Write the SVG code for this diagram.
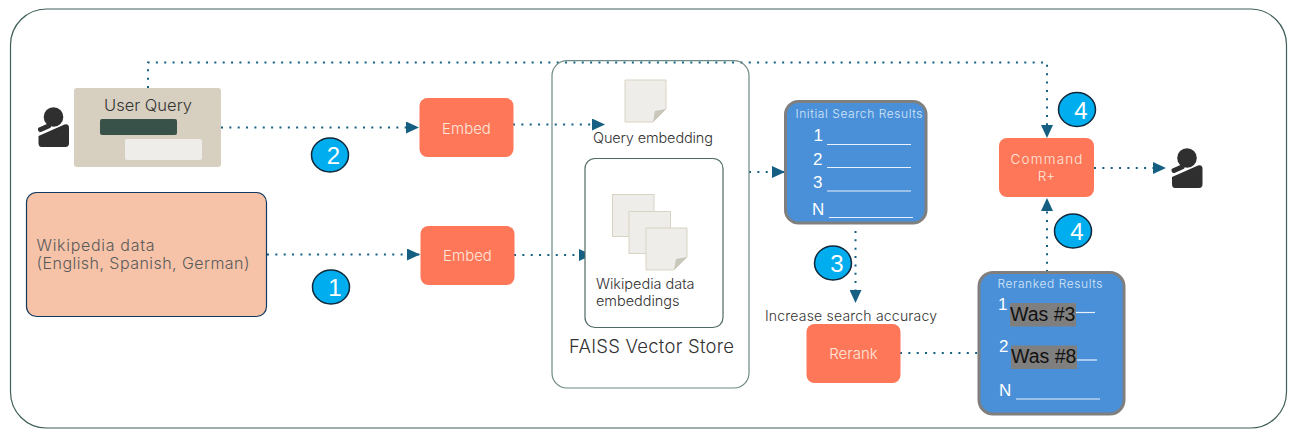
<svg xmlns="http://www.w3.org/2000/svg" xmlns:xlink="http://www.w3.org/1999/xlink" width="1299" height="437" viewBox="0 0 1299 437">
<style>
text{font-family:"Inter","Liberation Sans",sans-serif;font-weight:300}
.ar{font-family:"Liberation Sans",Arial,sans-serif;font-weight:400}
.conn{fill:none;stroke:#156082;stroke-width:2;stroke-dasharray:2 6.35}
.orange{fill:#ff7759}
.otext{fill:#fde6dc;font-size:15px;text-anchor:middle}
.doc{fill:#eeede9;stroke:#d9d3c4;stroke-width:1}
.fold{fill:#c9c6bb}
.res{fill:#4a90d9;stroke:#7f7f7f;stroke-width:3}
.rl{stroke:#e8f0fa;stroke-width:1.2}
.num{fill:#fff;font-size:17px}
.rt{fill:#d6e6f8;font-size:12px}
.badge{fill:#00aeef;stroke:#10283a;stroke-width:1.5}
.bt{fill:#fff;font-size:24px;text-anchor:middle}
.was{fill:#111;font-size:19.5px}
</style>
<defs>
<marker id="arrow" markerUnits="userSpaceOnUse" markerWidth="14" markerHeight="12" refX="13" refY="6" orient="auto"><path d="M0 0L13 6L0 12Z" fill="#156082"/></marker>
<symbol id="person" overflow="visible"><circle cx="0" cy="0" r="9.8" fill="#2f2f2f"/><path d="M-13 12.500L-5 9" stroke="#2f2f2f" stroke-width="5" stroke-linecap="round" fill="none"/><path d="M-15 19L11 7.500Q15.500 6.500 15.500 11L15.500 26Q15.500 30 12 30L-12 30Q-15 30-15 26Z" fill="#2f2f2f"/></symbol>
<symbol id="page" overflow="visible"><path class="doc" d="M0 0H41V29L28 42H0Z"/><path class="fold" d="M41 29L28 42L30 31Z"/></symbol>
</defs>
<rect id="frame" x="10.500" y="9" width="1276" height="419" rx="36" fill="#fff" stroke="#3f5f5a" stroke-width="1.2"/>
<g id="connectors">
<path class="conn" d="M148 88V62.500H1047V138" marker-end="url(#arrow)"/>
<path class="conn" d="M221 127.500H419" marker-end="url(#arrow)"/>
<path class="conn" d="M513 124.500H605" marker-end="url(#arrow)"/>
<path class="conn" d="M267 254.500H420" marker-end="url(#arrow)"/>
<path class="conn" d="M514 255H592" marker-end="url(#arrow)"/>
<path class="conn" d="M749 172H785" marker-end="url(#arrow)"/>
<path class="conn" d="M855.500 231V303" marker-end="url(#arrow)"/>
<path class="conn" d="M900 353H979"/>
<path class="conn" d="M1047 272V198" marker-end="url(#arrow)"/>
<path class="conn" d="M1094 168H1166" marker-end="url(#arrow)"/>
</g>
<g id="store">
<rect x="552" y="60.700" width="197" height="327.300" rx="15" fill="none" stroke="#6d8a85" stroke-width="1.2"/>
<text x="569" y="353" font-size="18.500" fill="#333" textLength="165">FAISS Vector Store</text>
</g>
<g id="user-left"><use xlink:href="#person" href="#person" x="53.500" y="117"/></g>
<g id="user-query">
<rect x="74" y="88" width="147" height="79" rx="3" fill="#d7cfc0"/>
<rect x="100" y="119" width="77" height="16" rx="2" fill="#38524a"/>
<rect x="125" y="139" width="77" height="21" rx="2" fill="#eeede9"/>
<text x="104" y="111" font-size="16.500" fill="#333" textLength="88">User Query</text>
</g>
<g id="embed-1"><rect class="orange" x="419.500" y="98" width="94" height="59" rx="8"/><text class="otext" x="466.500" y="133.500">Embed</text></g>
<g id="wikipedia">
<rect x="26.500" y="192.500" width="240" height="124" rx="10" fill="#f6c3a9" stroke="#123a5f" stroke-width="1.2"/>
<text x="36.500" y="251" font-size="16" fill="#5a5a5a" textLength="118">Wikipedia data</text>
<text x="36.500" y="269" font-size="16" fill="#5a5a5a" textLength="213">(English, Spanish, German)</text>
</g>
<g id="embed-2"><rect class="orange" x="420.500" y="226" width="94" height="59" rx="8"/><text class="otext" x="467.500" y="260.500">Embed</text></g>
<g id="query-embedding">
<use xlink:href="#page" href="#page" x="625" y="80"/>
<text x="593" y="142.500" font-size="14.500" fill="#333" textLength="120">Query embedding</text>
</g>
<g id="wiki-embeddings">
<rect x="585" y="158.500" width="138" height="169" rx="10" fill="#fff" stroke="#4f6a66" stroke-width="1.2"/>
<rect class="doc" x="612.500" y="194.500" width="41.500" height="42"/>
<rect class="doc" x="629" y="211.500" width="41.500" height="42"/>
<use xlink:href="#page" href="#page" x="646" y="228"/>
<text x="596" y="289" font-size="14.500" fill="#333" textLength="98.500">Wikipedia data</text>
<text x="596" y="306" font-size="14.500" fill="#333" textLength="83.500">embeddings</text>
</g>
<g id="initial-results">
<rect class="res" x="785.500" y="101.500" width="140.500" height="121.500" rx="13"/>
<text class="rt" x="795.500" y="118" textLength="127">Initial Search Results</text>
<text class="ar num" x="813.500" y="141">1</text><line class="rl" x1="827" y1="144.500" x2="911" y2="144.500"/>
<text class="ar num" x="813" y="165">2</text><line class="rl" x1="827" y1="167.500" x2="911" y2="167.500"/>
<text class="ar num" x="813" y="188">3</text><line class="rl" x1="827" y1="191" x2="911" y2="191"/>
<text class="ar num" x="812" y="215">N</text><line class="rl" x1="829" y1="217.500" x2="913" y2="217.500"/>
</g>
<g id="rerank">
<text x="765" y="321" font-size="14" fill="#333" textLength="172">Increase search accuracy</text>
<rect class="orange" x="806.500" y="324" width="94" height="59" rx="8"/>
<text class="otext" x="853.500" y="358.500">Rerank</text>
</g>
<g id="reranked-results">
<rect class="res" x="979" y="272.500" width="145" height="141.500" rx="14"/>
<text class="rt" x="997.500" y="287.500" textLength="105">Reranked Results</text>
<text class="ar num" x="998" y="310">1</text>
<rect x="1010" y="303" width="66" height="23.500" fill="#7f7f7f"/>
<text class="ar was" x="1010" y="320.500">Was #3</text><line class="rl" x1="1076" y1="312.500" x2="1095" y2="312.500"/>
<text class="ar num" x="999" y="352">2</text>
<rect x="1011" y="345.500" width="66" height="23.500" fill="#7f7f7f"/>
<text class="ar was" x="1011" y="363">Was #8</text><line class="rl" x1="1077" y1="360" x2="1097" y2="360"/>
<text class="ar num" x="999" y="396">N</text><line class="rl" x1="1016" y1="399" x2="1100" y2="399"/>
</g>
<g id="command">
<rect class="orange" x="999" y="138" width="95" height="59" rx="8"/>
<text class="otext" style="font-size:13.500px" x="1046.500" y="163.500" textLength="72">Command</text>
<text class="otext" style="font-size:13.500px" x="1046.500" y="181">R+</text>
</g>
<g id="user-right"><use xlink:href="#person" href="#person" x="1187" y="158"/></g>
<g id="badge-2"><ellipse class="badge" cx="330" cy="155" rx="18.500" ry="17"/><text class="ar bt" x="333.500" y="163.500">2</text></g>
<g id="badge-1"><ellipse class="badge" cx="331" cy="287" rx="18.500" ry="17"/><text class="ar bt" x="335" y="296">1</text></g>
<g id="badge-3"><ellipse class="badge" cx="833" cy="263" rx="18.500" ry="17"/><text class="ar bt" x="837" y="272">3</text></g>
<g id="badge-4a"><ellipse class="badge" cx="1077" cy="109.500" rx="18.500" ry="17"/><text class="ar bt" x="1081" y="118.500">4</text></g>
<g id="badge-4b"><ellipse class="badge" cx="1073" cy="231" rx="18.500" ry="17"/><text class="ar bt" x="1077" y="240">4</text></g>
</svg>
